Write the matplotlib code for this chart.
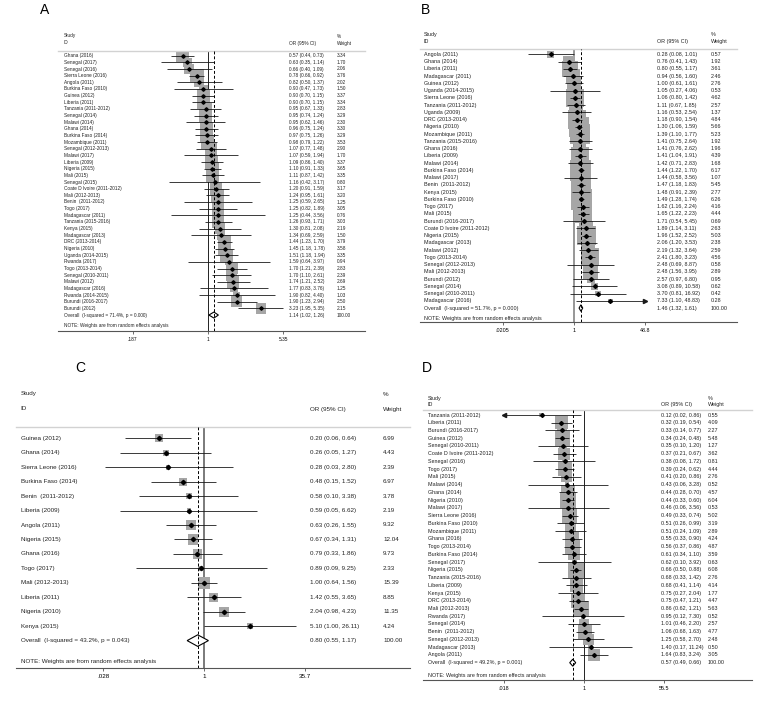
import numpy as np
import matplotlib
matplotlib.use("Agg")
import matplotlib.pyplot as plt
from matplotlib.transforms import blended_transform_factory
from matplotlib.patches import Polygon

plt.rcParams['font.family'] = ['Liberation Sans', 'DejaVu Sans']

W, H = 765, 712

# ---------------- panel A ----------------
a_study = ["Ghana (2016)", "Senegal (2017)", "Senegal (2016)", "Sierra Leone (2016)", "Angola (2011)",
           "Burkina Faso (2010)", "Guinea (2012)", "Liberia (2011)", "Tanzania (2011-2012)", "Senegal (2014)",
           "Malawi (2014)", "Ghana (2014)", "Burkina Faso (2014)", "Mozambique (2011)", "Senegal (2012-2013)",
           "Malawi (2017)", "Liberia (2009)", "Nigeria (2015)", "Mali (2015)", "Senegal (2015)",
           "Coate D Ivoire (2011-2012)", "Mali (2012-2013)", "Benin  (2011-2012)", "Togo (2017)", "Madagascar (2011)",
           "Tanzania (2015-2016)", "Kenya (2015)", "Madagascar (2013)", "DRC (2013-2014)", "Nigeria (2010)",
           "Uganda (2014-2015)", "Rwanda (2017)", "Togo (2013-2014)", "Senegal (2010-2011)", "Malawi (2012)",
           "Madagascar (2016)", "Rwanda (2014-2015)", "Burundi (2016-2017)", "Burundi (2012)"]
a_or = [0.57, 0.63, 0.66, 0.78, 0.82, 0.90, 0.90, 0.90, 0.95, 0.95, 0.95, 0.96, 0.97, 0.98, 1.07, 1.07, 1.09, 1.10,
        1.11, 1.16, 1.20, 1.24, 1.25, 1.25, 1.25, 1.26, 1.30, 1.34, 1.44, 1.45, 1.51, 1.59, 1.70, 1.70, 1.74, 1.77,
        1.90, 1.90, 3.23]
a_lo = [0.44, 0.35, 0.40, 0.66, 0.50, 0.47, 0.70, 0.70, 0.67, 0.74, 0.62, 0.75, 0.75, 0.79, 0.77, 0.59, 0.86, 0.91,
        0.87, 0.42, 0.91, 0.95, 0.59, 0.82, 0.44, 0.93, 0.81, 0.69, 1.23, 1.18, 1.18, 0.64, 1.21, 1.10, 1.21, 0.83,
        0.82, 1.23, 1.95]
a_hi = [0.73, 1.14, 1.09, 0.92, 1.37, 1.73, 1.15, 1.15, 1.33, 1.24, 1.46, 1.24, 1.26, 1.22, 1.48, 1.94, 1.40, 1.33,
        1.42, 3.17, 1.59, 1.61, 2.65, 1.89, 3.56, 1.71, 2.08, 2.59, 1.70, 1.78, 1.94, 3.97, 2.39, 2.61, 2.52, 3.76,
        4.40, 2.94, 5.35]
a_w = [3.34, 1.70, 2.06, 3.76, 2.02, 1.50, 3.37, 3.34, 2.83, 3.29, 2.30, 3.30, 3.29, 3.53, 2.90, 1.70, 3.37, 3.65,
       3.35, 0.80, 3.17, 3.20, 1.25, 3.05, 0.76, 3.03, 2.19, 1.50, 3.79, 3.58, 3.35, 0.94, 2.83, 2.39, 2.69, 1.25,
       1.03, 2.50, 2.15]
a_overall = (1.14, 1.02, 1.26)
a_het = "Overall  (I-squared = 71.4%, p = 0.000)"
a_ticks = [0.187, 1, 5.35]
a_ticklabels = [".187", "1", "5.35"]

# ---------------- panel B ----------------
b_study = ["Angola (2011)", "Ghana (2014)", "Liberia (2011)", "Madagascar (2011)", "Guinea (2012)",
           "Uganda (2014-2015)", "Sierra Leone (2016)", "Tanzania (2011-2012)", "Uganda (2009)", "DRC (2013-2014)",
           "Nigeria (2010)", "Mozambique (2011)", "Tanzania (2015-2016)", "Ghana (2016)", "Liberia (2009)",
           "Malawi (2014)", "Burkina Faso (2014)", "Malawi (2017)", "Benin  (2011-2012)", "Kenya (2015)",
           "Burkina Faso (2010)", "Togo (2017)", "Mali (2015)", "Burundi (2016-2017)", "Coate D Ivoire (2011-2012)",
           "Nigeria (2015)", "Madagascar (2013)", "Malawi (2012)", "Togo (2013-2014)", "Senegal (2012-2013)",
           "Mali (2012-2013)", "Burundi (2012)", "Senegal (2014)", "Senegal (2010-2011)", "Madagascar (2016)"]
b_or = [0.28, 0.76, 0.80, 0.94, 1.00, 1.05, 1.06, 1.11, 1.16, 1.18, 1.30, 1.39, 1.41, 1.41, 1.41, 1.42, 1.44, 1.44,
        1.47, 1.48, 1.49, 1.62, 1.65, 1.71, 1.89, 1.96, 2.06, 2.19, 2.41, 2.48, 2.48, 2.57, 3.08, 3.70, 7.33]
b_lo = [0.08, 0.41, 0.55, 0.56, 0.61, 0.27, 0.80, 0.67, 0.53, 0.90, 1.06, 1.10, 0.75, 0.76, 1.04, 0.71, 1.22, 0.58,
        1.18, 0.91, 1.28, 1.16, 1.22, 0.54, 1.14, 1.52, 1.20, 1.32, 1.80, 0.69, 1.56, 0.97, 0.89, 0.81, 1.10]
b_hi = [1.01, 1.43, 1.17, 1.60, 1.61, 4.06, 1.42, 1.85, 2.54, 1.54, 1.59, 1.77, 2.64, 2.62, 1.91, 2.83, 1.70, 3.56,
        1.83, 2.39, 1.74, 2.24, 2.23, 5.45, 3.11, 2.52, 3.53, 3.64, 3.23, 8.87, 3.95, 6.80, 10.58, 16.92, 48.83]
b_w = [0.57, 1.92, 3.61, 2.46, 2.76, 0.53, 4.62, 2.57, 1.37, 4.84, 5.66, 5.23, 1.92, 1.96, 4.39, 1.68, 6.17, 1.07,
       5.45, 2.77, 6.26, 4.16, 4.44, 0.69, 2.63, 5.03, 2.38, 2.59, 4.56, 0.58, 2.89, 0.95, 0.62, 0.42, 0.28]
b_overall = (1.46, 1.32, 1.61)
b_het = "Overall  (I-squared = 51.7%, p = 0.000)"
b_ticks = [0.0205, 1, 48.8]
b_ticklabels = [".0205", "1", "48.8"]

# ---------------- panel C ----------------
c_study = ["Guinea (2012)", "Ghana (2014)", "Sierra Leone (2016)", "Burkina Faso (2014)", "Benin  (2011-2012)",
           "Liberia (2009)", "Angola (2011)", "Nigeria (2015)", "Ghana (2016)", "Togo (2017)", "Mali (2012-2013)",
           "Liberia (2011)", "Nigeria (2010)", "Kenya (2015)"]
c_or = [0.20, 0.26, 0.28, 0.48, 0.58, 0.59, 0.63, 0.67, 0.79, 0.89, 1.00, 1.42, 2.04, 5.10]
c_lo = [0.06, 0.05, 0.03, 0.15, 0.10, 0.05, 0.26, 0.34, 0.33, 0.09, 0.64, 0.55, 0.98, 1.00]
c_hi = [0.64, 1.27, 2.80, 1.52, 3.38, 6.62, 1.55, 1.31, 1.86, 9.25, 1.56, 3.65, 4.23, 26.11]
c_w = [6.99, 4.43, 2.39, 6.97, 3.78, 2.19, 9.32, 12.04, 9.73, 2.33, 15.39, 8.85, 11.35, 4.24]
c_overall = (0.80, 0.55, 1.17)
c_het = "Overall  (I-squared = 43.2%, p = 0.043)"
c_ticks = [0.028, 1, 35.7]
c_ticklabels = [".028", "1", "35.7"]

# ---------------- panel D ----------------
d_study = ["Tanzania (2011-2012)", "Liberia (2011)", "Burundi (2016-2017)", "Guinea (2012)", "Senegal (2010-2011)",
           "Coate D Ivoire (2011-2012)", "Senegal (2016)", "Togo (2017)", "Mali (2015)", "Malawi (2014)",
           "Ghana (2014)", "Nigeria (2010)", "Malawi (2017)", "Sierra Leone (2016)", "Burkina Faso (2010)",
           "Mozambique (2011)", "Ghana (2016)", "Togo (2013-2014)", "Burkina Faso (2014)", "Senegal (2017)",
           "Nigeria (2015)", "Tanzania (2015-2016)", "Liberia (2009)", "Kenya (2015)", "DRC (2013-2014)",
           "Mali (2012-2013)", "Rwanda (2017)", "Senegal (2014)", "Benin  (2011-2012)", "Senegal (2012-2013)",
           "Madagascar (2013)", "Angola (2011)"]
d_or = [0.12, 0.32, 0.33, 0.34, 0.35, 0.37, 0.38, 0.39, 0.41, 0.43, 0.44, 0.44, 0.46, 0.49, 0.51, 0.51, 0.55, 0.56,
        0.61, 0.62, 0.66, 0.68, 0.68, 0.75, 0.75, 0.86, 0.95, 1.01, 1.06, 1.25, 1.40, 1.64]
d_lo = [0.017, 0.19, 0.14, 0.24, 0.10, 0.21, 0.08, 0.24, 0.20, 0.06, 0.28, 0.33, 0.06, 0.33, 0.26, 0.24, 0.33, 0.37,
        0.34, 0.10, 0.50, 0.33, 0.41, 0.27, 0.47, 0.62, 0.12, 0.46, 0.68, 0.58, 0.17, 0.83]
d_hi = [0.86, 0.54, 0.77, 0.48, 1.20, 0.67, 1.72, 0.62, 0.86, 3.28, 0.70, 0.60, 3.56, 0.74, 0.99, 1.09, 0.90, 0.86,
        1.10, 3.92, 0.88, 1.42, 1.14, 2.04, 1.21, 1.21, 7.30, 2.20, 1.63, 2.70, 11.24, 3.24]
d_w = [0.55, 4.09, 2.27, 5.48, 1.27, 3.62, 0.81, 4.44, 2.76, 0.52, 4.57, 6.04, 0.53, 5.02, 3.19, 2.89, 4.24, 4.87,
       3.59, 0.63, 6.08, 2.76, 4.14, 1.77, 4.47, 5.63, 0.52, 2.57, 4.77, 2.48, 0.50, 3.05]
d_overall = (0.57, 0.49, 0.66)
d_het = "Overall  (I-squared = 49.2%, p = 0.001)"
d_ticks = [0.018, 1, 55.5]
d_ticklabels = [".018", "1", "55.5"]


fig = plt.figure(figsize=(W / 100, H / 100), dpi=100)
fig.patch.set_facecolor("white")


def forest(lay, study, orr, lo, hi, w, overall, het, ticks, ticklabels):
    x0, x1, yh, ya = lay["x0"], lay["x1"], lay["yh"], lay["ya"]
    y1, dy, c, s = lay["y1"], lay["dy"], lay["c"], lay["s"]
    fs = lay["fs"]
    ax = fig.add_axes([x0 / W, 1 - ya / H, (x1 - x0) / W, (ya - yh) / H])
    ax.set_xscale("log")
    ax.set_xlim(np.exp((x0 - c) / s), np.exp((x1 - c) / s))
    ax.set_ylim(1 + (ya - y1) / dy, 1 + (yh - y1) / dy)
    ax.patch.set_alpha(0)

    def row(py):
        return 1 + (py - y1) / dy

    n = len(study)
    rows = np.arange(1, n + 1)
    tmin, tmax = ticks[0], ticks[-1]

    # weight boxes (side grows with sqrt of weight)
    side = lay["k"] * np.sqrt(np.array(w)) * 0.72
    ax.scatter(orr, rows, s=side ** 2, marker="s", color="#a6a6a6", linewidths=0, zorder=2)
    # confidence intervals
    for r, l, h in zip(rows, lo, hi):
        ax.plot([max(l, tmin), min(h, tmax)], [r, r], color="#1a1a1a", lw=0.6, zorder=3,
                solid_capstyle="butt")
        if l < tmin:
            ax.plot(tmin, r, marker="<", ms=3, color="#1a1a1a", zorder=3)
        if h > tmax:
            ax.plot(tmax, r, marker=">", ms=3, color="#1a1a1a", zorder=3)
    ax.plot(orr, rows, "D", ms=lay["ms"], color="black", zorder=4, linestyle="none")

    # overall diamond
    ro = n + 1
    est, olo, ohi = overall
    hh = lay["dh"]
    ax.add_patch(Polygon([(olo, ro), (est, ro - hh), (ohi, ro), (est, ro + hh)], closed=True,
                         facecolor="white", edgecolor="black", lw=0.8, zorder=5))

    # reference lines
    ax.axvline(1, color=lay["nullc"], lw=lay["nullw"], zorder=1)
    ax.axvline(est, color="black", lw=0.7, ls=(0, (3, 2)), zorder=6)

    # spines / axis
    for sp in ["left", "right"]:
        ax.spines[sp].set_visible(False)
    ax.spines["top"].set_color("#d2d2d2")
    ax.spines["top"].set_linewidth(1.0)
    ax.spines["bottom"].set_color("#555555")
    ax.spines["bottom"].set_linewidth(0.8)
    ax.set_yticks([])
    ax.set_xticks(ticks)
    ax.set_xticklabels(ticklabels)
    ax.minorticks_off()
    ax.tick_params(axis="x", length=2.5, width=0.6, pad=2, labelsize=fs, color="#555555")

    # text columns
    tr = blended_transform_factory(fig.transFigure, ax.transData)
    kw = dict(transform=tr, fontsize=fs, va="center", ha="left", color="#222222")
    for r, name, o, l, h, ww in zip(rows, study, orr, lo, hi, w):
        ax.text(lay["xl"] / W, r, name, **kw)
        ax.text(lay["xo"] / W, r, "%.2f (%.2f, %.2f)" % (o, l, h), **kw)
        ax.text(lay["xw"] / W, r, "%.2f" % ww, **kw)
    ax.text(lay["xl"] / W, ro, het, **kw)
    ax.text(lay["xo"] / W, ro, "%.2f (%.2f, %.2f)" % overall, **kw)
    ax.text(lay["xw"] / W, ro, "100.00", **kw)
    ax.text(lay["xl"] / W, row(lay["ynote"]), "NOTE: Weights are from random effects analysis", **kw)
    # header
    ax.text(lay["xl"] / W, row(lay["ys"]), "Study", **kw)
    ax.text(lay["xl"] / W, row(lay["yi"]), "ID", **kw)
    ax.text(lay["xo"] / W, row(lay["yi"]), "OR (95% CI)", **kw)
    ax.text(lay["xw"] / W, row(lay["ys"]), "%", **kw)
    ax.text(lay["xw"] / W, row(lay["yi"]), "Weight", **kw)
    fig.text(lay["tx"] / W, 1 - lay["ty"] / H, lay["title"], fontsize=10, ha="center", va="center")
    return ax


lay_a = dict(title="A", tx=45, ty=10, x0=58, x1=365, yh=50.7, ya=331, y1=55.7, dy=6.65, c=208, s=45,
             xl=64, xo=289, xw=337, ys=36, yi=43, ynote=325, fs=3.4, k=7.0, ms=1.8, dh=0.45,
             nullc="black", nullw=0.6)
lay_b = dict(title="B", tx=425, ty=10, x0=420, x1=737, yh=49.3, ya=322, y1=54.3, dy=7.25, c=574, s=18.3,
             xl=424, xo=657, xw=711, ys=34.5, yi=41.5, ynote=318.5, fs=3.9, k=8.5, ms=2.0, dh=0.45,
             nullc="#7a7a7a", nullw=1.1)
lay_c = dict(title="C", tx=80, ty=368, x0=16, x1=410, yh=426.7, ya=668, y1=438.3, dy=14.45, c=204, s=28.2,
             xl=20.7, xo=310, xw=383, ys=394, yi=409, ynote=662, fs=4.5, k=3.0, ms=2.2, dh=0.4,
             nullc="#7a7a7a", nullw=1.4)
lay_d = dict(title="D", tx=427, ty=368, x0=423, x1=752, yh=409.5, ya=680, y1=415, dy=7.74, c=584, s=20,
             xl=427.7, xo=661, xw=708, ys=398, yi=404.5, ynote=675, fs=3.9, k=6.5, ms=2.0, dh=0.45,
             nullc="black", nullw=0.6)

forest(lay_a, a_study, a_or, a_lo, a_hi, a_w, a_overall, a_het, a_ticks, a_ticklabels)
forest(lay_b, b_study, b_or, b_lo, b_hi, b_w, b_overall, b_het, b_ticks, b_ticklabels)
forest(lay_c, c_study, c_or, c_lo, c_hi, c_w, c_overall, c_het, c_ticks, c_ticklabels)
forest(lay_d, d_study, d_or, d_lo, d_hi, d_w, d_overall, d_het, d_ticks, d_ticklabels)

fig.savefig("out.png", dpi=100, facecolor="white")
